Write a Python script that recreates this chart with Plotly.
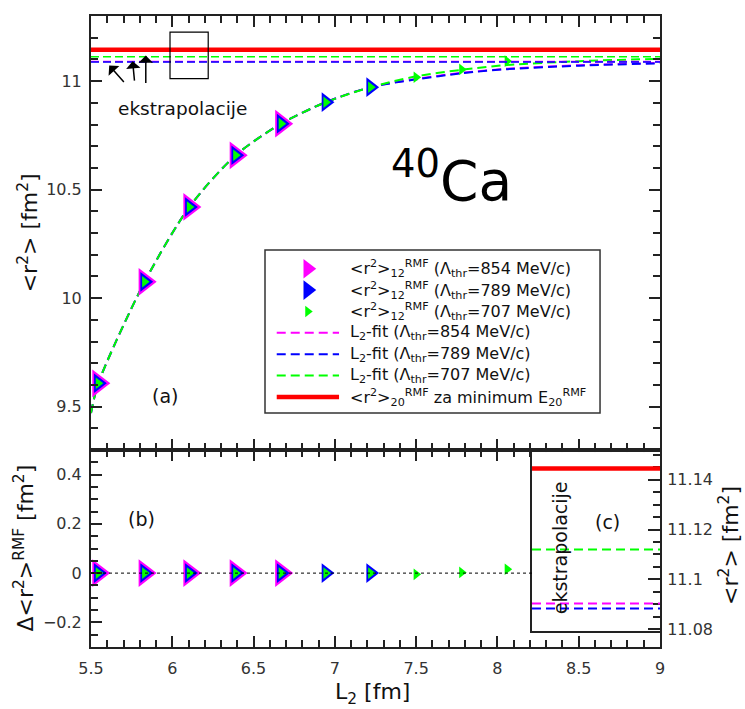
import plotly.graph_objects as go

# ---------------- data ----------------
L2_854 = [5.545, 5.83, 6.105, 6.39, 6.67]
r2_854 = [9.6075, 10.075, 10.42, 10.658, 10.804]
L2_789 = [5.545, 5.83, 6.105, 6.39, 6.67, 6.945, 7.22]
r2_789 = [9.6075, 10.075, 10.42, 10.658, 10.804, 10.903, 10.972]
L2_707 = [5.545, 5.83, 6.105, 6.39, 6.67, 6.945, 7.22, 7.5, 7.78, 8.06]
r2_707 = [9.6075, 10.075, 10.42, 10.658, 10.804, 10.903, 10.972, 11.018, 11.054, 11.092]

d_854 = [0.0, 0.0, 0.0, 0.0, 0.0]
d_789 = [0.0, 0.0, 0.0, 0.0, 0.0, 0.0, 0.0]
d_707 = [0.0, 0.0, 0.0, 0.0, 0.0, 0.0, 0.0, -0.005, 0.003, 0.016]

L2_fit = [5.5, 5.545, 5.83, 6.105, 6.39, 6.67, 6.945, 7.22, 7.5, 7.78, 8.06, 8.5, 9.0]
fit_854 = [9.47, 9.6075, 10.075, 10.42, 10.658, 10.804, 10.903, 10.972, 11.010, 11.038, 11.057, 11.073, 11.084]
fit_789 = [9.47, 9.6075, 10.075, 10.42, 10.658, 10.804, 10.903, 10.972, 11.008, 11.036, 11.055, 11.071, 11.082]
fit_707 = [9.47, 9.6075, 10.075, 10.42, 10.658, 10.804, 10.903, 10.972, 11.022, 11.052, 11.074, 11.092, 11.103]

extrap_854 = 11.0904
extrap_789 = 11.0884
extrap_707 = 11.112
r2_20_min = 11.1444

legend_labels = [
    "&lt;r<sup>2</sup>&gt;<sub>12</sub><sup>RMF</sup> (Λ<sub>thr</sub>=854 MeV/c)",
    "&lt;r<sup>2</sup>&gt;<sub>12</sub><sup>RMF</sup> (Λ<sub>thr</sub>=789 MeV/c)",
    "&lt;r<sup>2</sup>&gt;<sub>12</sub><sup>RMF</sup> (Λ<sub>thr</sub>=707 MeV/c)",
    "L<sub>2</sub>-fit (Λ<sub>thr</sub>=854 MeV/c)",
    "L<sub>2</sub>-fit (Λ<sub>thr</sub>=789 MeV/c)",
    "L<sub>2</sub>-fit (Λ<sub>thr</sub>=707 MeV/c)",
    "&lt;r<sup>2</sup>&gt;<sub>20</sub><sup>RMF</sup> za minimum E<sub>20</sub><sup>RMF</sup>",
]

title_top_y = "&lt;r<sup>2</sup>&gt; [fm<sup>2</sup>]"
title_bottom_y = "Δ&lt;r<sup>2</sup>&gt;<sup>RMF</sup> [fm<sup>2</sup>]"
title_x = "L<sub>2</sub> [fm]"
title_inset_y = "&lt;r<sup>2</sup>&gt; [fm<sup>2</sup>]"

# ---------------- styles ----------------
MAG, BLU, GRN, RED = "#ff00ff", "#0000ff", "#00ff00", "#ff0000"
FONT = "DejaVu Sans"
AX = "#222222"
TICKC = "#333333"
TXT = "#111111"
DASH = "9px,5px"
SIZE_BIG, SIZE_MID, SIZE_SMALL = 24, 17, 10

fig = go.Figure()

# top panel fits
for yv, c in [(fit_854, MAG), (fit_789, BLU), (fit_707, GRN)]:
    fig.add_trace(go.Scatter(x=L2_fit, y=yv, mode="lines", xaxis="x", yaxis="y",
                             line=dict(color=c, width=2, dash=DASH, shape="spline", smoothing=0.8),
                             showlegend=False, hoverinfo="skip"))
# top panel data
for xv, yv, c, s in [(L2_854, r2_854, MAG, SIZE_BIG), (L2_789, r2_789, BLU, SIZE_MID),
                     (L2_707, r2_707, GRN, SIZE_SMALL)]:
    fig.add_trace(go.Scatter(x=xv, y=yv, mode="markers", xaxis="x", yaxis="y",
                             marker=dict(symbol="triangle-right", size=s, color=c, line=dict(width=0)),
                             showlegend=False))
# bottom panel data
for xv, yv, c, s in [(L2_854, d_854, MAG, SIZE_BIG), (L2_789, d_789, BLU, SIZE_MID),
                     (L2_707, d_707, GRN, SIZE_SMALL)]:
    fig.add_trace(go.Scatter(x=xv, y=yv, mode="markers", xaxis="x2", yaxis="y2",
                             marker=dict(symbol="triangle-right", size=s, color=c, line=dict(width=0)),
                             showlegend=False))

# ---------------- custom legend (own hidden axes) ----------------
LEG_ROWS = [0.885, 0.754, 0.623, 0.492, 0.361, 0.230, 0.098]
LEG_MX = 0.1275
LEG_LX = [0.035, 0.221]
LEG_TX = 0.247
leg_markers = [(MAG, 17), (BLU, 17), (GRN, 10)]
for i, (c, s) in enumerate(leg_markers):
    fig.add_trace(go.Scatter(x=[LEG_MX], y=[LEG_ROWS[i]], mode="markers", xaxis="x4", yaxis="y4",
                             marker=dict(symbol="triangle-right", size=s, color=c, line=dict(width=0)),
                             showlegend=False, hoverinfo="skip"))
leg_lines = [(MAG, 2, DASH), (BLU, 2, DASH), (GRN, 2, DASH), (RED, 4.5, "solid")]
for j, (c, w, d) in enumerate(leg_lines):
    r = LEG_ROWS[3 + j]
    fig.add_trace(go.Scatter(x=LEG_LX, y=[r, r], mode="lines", xaxis="x4", yaxis="y4",
                             line=dict(color=c, width=w, dash=d),
                             showlegend=False, hoverinfo="skip"))

annotations = []
for i, txt in enumerate(legend_labels):
    annotations.append(dict(x=LEG_TX, y=LEG_ROWS[i], xref="x4", yref="y4", text=txt,
                            showarrow=False, xanchor="left", yanchor="middle",
                            font=dict(family=FONT, size=16, color=TXT)))

# axis titles (as annotations for exact placement)
annotations += [
    dict(x=-0.1116, y=0.6564, xref="paper", yref="paper", text=title_top_y, showarrow=False,
         textangle=-90, xanchor="center", yanchor="middle", font=dict(family=FONT, size=22, color=TXT)),
    dict(x=-0.1195, y=0.1561, xref="paper", yref="paper", text=title_bottom_y, showarrow=False,
         textangle=-90, xanchor="center", yanchor="middle", font=dict(family=FONT, size=22, color=TXT)),
    dict(x=1.121, y=0.1616, xref="paper", yref="paper", text=title_inset_y, showarrow=False,
         textangle=-90, xanchor="center", yanchor="middle", font=dict(family=FONT, size=22, color=TXT)),
    dict(x=0.4939, y=-0.047, xref="paper", yref="paper", text=title_x, showarrow=False,
         xanchor="center", yanchor="top", font=dict(family=FONT, size=22, color=TXT)),
]

# panel texts
annotations += [
    dict(x=7.72, y=10.56, xref="x", yref="y", text="<sup>40</sup>Ca", showarrow=False,
         font=dict(family=FONT, size=55, color="#000")),
    dict(x=5.955, y=9.548, xref="x", yref="y", text="(a)", showarrow=False,
         font=dict(family=FONT, size=19, color=TXT)),
    dict(x=6.063, y=10.876, xref="x", yref="y", text="ekstrapolacije", showarrow=False,
         font=dict(family=FONT, size=18.5, color=TXT)),
    dict(x=5.811, y=0.22, xref="x2", yref="y2", text="(b)", showarrow=False,
         font=dict(family=FONT, size=19, color=TXT)),
    dict(x=0.59, y=11.123, xref="x3", yref="y3", text="(c)", showarrow=False,
         font=dict(family=FONT, size=19, color=TXT)),
    dict(x=0.219, y=11.1125, xref="x3", yref="y3", text="ekstrapolacije", showarrow=False,
         textangle=-90, font=dict(family=FONT, size=19, color=TXT)),
]
# arrows pointing to the extrapolated lines
for hx, hy, ax, ay in [(5.612, 11.072, 16, 18), (5.756, 11.092, 2, 21), (5.837, 11.118, 0, 29)]:
    annotations.append(dict(x=hx, y=hy, xref="x", yref="y", text="", showarrow=True,
                            ax=ax, ay=ay, arrowhead=1, arrowsize=1.6, arrowwidth=1.5,
                            arrowcolor="#000"))

# ---------------- shapes ----------------
shapes = []
shapes.append(dict(type="line", xref="x domain", yref="y", x0=0, x1=1, y0=r2_20_min, y1=r2_20_min,
                   line=dict(color=RED, width=4.5)))
for v, c in [(extrap_707, GRN), (extrap_854, MAG), (extrap_789, BLU)]:
    shapes.append(dict(type="line", xref="x domain", yref="y", x0=0, x1=1, y0=v, y1=v,
                       line=dict(color=c, width=1.5, dash="8px,4px")))
    shapes.append(dict(type="line", xref="x3 domain", yref="y3", x0=0, x1=1, y0=v, y1=v,
                       line=dict(color=c, width=2, dash="9px,5px")))
shapes.append(dict(type="line", xref="x3 domain", yref="y3", x0=0, x1=1, y0=r2_20_min, y1=r2_20_min,
                   line=dict(color=RED, width=4.5)))
# zero line in panel (b)
shapes.append(dict(type="line", xref="x2 domain", yref="y2", x0=0, x1=0.775, y0=0, y1=0,
                   line=dict(color="#000", width=1, dash="dot")))
# zoom box in panel (a)
shapes.append(dict(type="rect", xref="x", yref="y", x0=5.986, x1=6.221, y0=11.011, y1=11.226,
                   line=dict(color="#000", width=1.2)))
# legend frame
shapes.append(dict(type="rect", xref="paper", yref="paper", x0=0.3058, x1=0.8946, y0=0.3708, y1=0.6292,
                   line=dict(color="#333", width=1.5)))

# ---------------- axes ----------------
def xax(**kw):
    d = dict(range=[5.5, 9], tick0=5.5, dtick=0.5, ticks="inside", ticklen=11, tickwidth=1.5,
             tickcolor=AX, minor=dict(ticks="inside", ticklen=7, dtick=0.1, tickwidth=1.5, tickcolor=AX),
             showline=True, linewidth=2, linecolor=AX, mirror="ticks", showgrid=False, zeroline=False,
             tickfont=dict(family=FONT, size=16, color=TICKC), ticklabelstandoff=6, automargin=False)
    d.update(kw)
    return d

fig.update_layout(
    width=745, height=709,
    margin=dict(l=91, r=85, t=16, b=62, autoexpand=False),
    paper_bgcolor="white", plot_bgcolor="white",
    font=dict(family=FONT, color=TXT),
    showlegend=False,
    xaxis=xax(anchor="y", showticklabels=False),
    yaxis=dict(domain=[0.3122, 1], anchor="x", range=[9.3, 11.3], tick0=9.5, dtick=0.5,
               ticks="inside", ticklen=11, tickwidth=1.5, tickcolor=AX,
               minor=dict(ticks="inside", ticklen=7, dtick=0.1, tickwidth=1.5, tickcolor=AX),
               showline=True, linewidth=2, linecolor=AX, mirror="ticks", showgrid=False, zeroline=False,
               tickfont=dict(family=FONT, size=16, color=TICKC), ticklabelstandoff=4, automargin=False),
    xaxis2=xax(anchor="y2"),
    yaxis2=dict(domain=[0, 0.3122], anchor="x2", range=[-0.3, 0.5], tick0=0, dtick=0.2,
                ticks="inside", ticklen=11, tickwidth=1.5, tickcolor=AX,
                minor=dict(ticks="inside", ticklen=7, dtick=0.05, tickwidth=1.5, tickcolor=AX),
                showline=True, linewidth=2, linecolor=AX, mirror=True, showgrid=False, zeroline=False,
                tickfont=dict(family=FONT, size=16, color=TICKC), ticklabelstandoff=4, automargin=False),
    xaxis3=dict(domain=[0.775, 1], anchor="y3", range=[0, 1], showticklabels=False, ticks="",
                showline=True, linewidth=2, linecolor=AX, mirror=True, showgrid=False, zeroline=False,
                automargin=False),
    yaxis3=dict(domain=[0.0258, 0.309], anchor="x3", side="right", range=[11.0795, 11.151],
                tick0=11.08, dtick=0.02, ticks="inside", ticklen=12, tickwidth=1.5, tickcolor=AX,
                minor=dict(ticks="inside", ticklen=7, dtick=0.005, tickwidth=1.5, tickcolor=AX),
                showline=True, linewidth=2, linecolor=AX, mirror=True, showgrid=False, zeroline=False,
                tickfont=dict(family=FONT, size=16, color=TICKC), ticklabelstandoff=2, automargin=False),
    xaxis4=dict(domain=[0.3058, 0.8946], anchor="y4", range=[0, 1], visible=False, fixedrange=True,
                automargin=False),
    yaxis4=dict(domain=[0.3708, 0.6292], anchor="x4", range=[0, 1], visible=False, fixedrange=True,
                automargin=False),
    annotations=annotations,
    shapes=shapes,
)

# remove the page's default body margin so the figure sits at the window origin
fig.write_html("out.html", config={"displayModeBar": False},
               post_script="document.body.style.margin='0';")
